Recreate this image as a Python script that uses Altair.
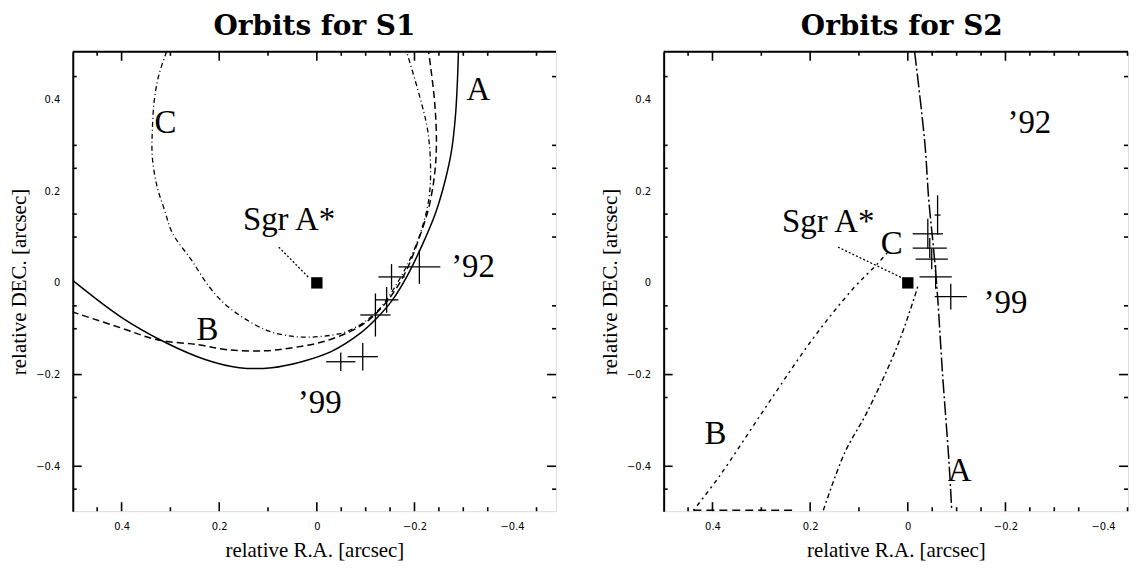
import altair as alt
import pandas as pd

# ---------------- S1 (left panel) : orbit curves (R.A., DEC in arcsec) ----------------
S1_A_RA  = [0.502, 0.402, 0.310, 0.229, 0.159, 0.092, 0.031, -0.029, -0.090, -0.120, -0.155, -0.186, -0.216, -0.243, -0.263, -0.276, -0.284, -0.288, -0.290]
S1_A_DEC = [0.007, -0.074, -0.130, -0.167, -0.185, -0.185, -0.172, -0.150, -0.109, -0.080, -0.037, 0.017, 0.083, 0.152, 0.224, 0.289, 0.365, 0.441, 0.504]
S1_B_RA  = [0.502, 0.402, 0.327, 0.243, 0.182, 0.106, 0.047, -0.014, -0.076, -0.112, -0.149, -0.182, -0.208, -0.229, -0.241, -0.245, -0.241, -0.229]
S1_B_DEC = [-0.063, -0.098, -0.124, -0.135, -0.146, -0.148, -0.141, -0.128, -0.102, -0.076, -0.033, 0.024, 0.093, 0.163, 0.235, 0.304, 0.398, 0.504]
S1_C_RA  = [0.308, 0.324, 0.333, 0.337, 0.337, 0.327, 0.312, 0.296, 0.257, 0.220, 0.182, 0.106, 0.047, -0.006, -0.059, -0.104, -0.135, -0.165, -0.192, -0.214, -0.229, -0.233, -0.227, -0.210, -0.184]
S1_C_DEC = [0.504, 0.452, 0.398, 0.333, 0.274, 0.209, 0.159, 0.109, 0.050, -0.009, -0.052, -0.102, -0.117, -0.117, -0.107, -0.080, -0.048, 0.000, 0.054, 0.115, 0.180, 0.246, 0.333, 0.409, 0.504]

# S1 measured positions with errors
S1_PT_RA   = [-0.210, -0.153, -0.143, -0.120, -0.094, -0.049]
S1_PT_DEC  = [0.035, 0.013, -0.037, -0.070, -0.161, -0.172]
S1_PT_ERA  = [0.043, 0.027, 0.024, 0.031, 0.031, 0.030]
S1_PT_EDEC = [0.037, 0.028, 0.028, 0.047, 0.030, 0.020]

# S1 labels
S1_LBL_TEXT = ["Sgr A*", "C", "A", "B", "\u201992", "\u201999"]
S1_LBL_RA   = [0.057, 0.310, -0.331, 0.224, -0.320, -0.006]
S1_LBL_DEC  = [0.137, 0.348, 0.420, -0.102, 0.035, -0.261]
S1_ARROW_RA  = [0.078, 0.016]
S1_ARROW_DEC = [0.078, 0.011]

# ---------------- S2 (right panel) ----------------
S2_A_RA  = [-0.014, -0.035, -0.043, -0.053, -0.061, -0.071, -0.084, -0.090]
S2_A_DEC = [0.504, 0.304, 0.180, 0.072, -0.030, -0.196, -0.385, -0.496]
S2_B_RA  = [0.439, 0.386, 0.294, 0.196, 0.114, 0.061, 0.037]
S2_B_DEC = [-0.496, -0.422, -0.276, -0.124, -0.015, 0.043, 0.072]
S2_BE_RA  = [0.439, 0.235]
S2_BE_DEC = [-0.496, -0.496]
S2_C_RA  = [0.173, 0.129, 0.084, 0.022, -0.014, -0.022]
S2_C_DEC = [-0.496, -0.370, -0.283, -0.139, -0.030, -0.002]

S2_PT_RA   = [-0.061, -0.041, -0.045, -0.049, -0.057, -0.088]
S2_PT_DEC  = [0.148, 0.107, 0.076, 0.052, 0.013, -0.030]
S2_PT_ERA  = [0.006, 0.031, 0.035, 0.033, 0.033, 0.033]
S2_PT_EDEC = [0.043, 0.033, 0.022, 0.022, 0.026, 0.028]

S2_LBL_TEXT = ["Sgr A*", "C", "A", "B", "\u201992", "\u201999"]
S2_LBL_RA   = [0.163, 0.033, -0.106, 0.394, -0.249, -0.200]
S2_LBL_DEC  = [0.133, 0.085, -0.411, -0.330, 0.348, -0.043]
S2_ARROW_RA  = [0.143, 0.008]
S2_ARROW_DEC = [0.078, 0.009]

# ---------------- axes ----------------
X_LABELS = [0.4, 0.2, 0.0, -0.2, -0.4]
Y_LABELS = [0.4, 0.2, 0.0, -0.2, -0.4]
X_MINOR = [0.45, 0.3, 0.1, -0.05, -0.1, -0.15, -0.25, -0.3, -0.35, -0.45]
X_MAJOR = [0.4, 0.2, 0.0, -0.2]
Y_MINOR = [0.45, 0.3, 0.25, 0.15, 0.1, -0.05, -0.1, -0.25, -0.45]
Y_MAJOR = [-0.2, -0.4]

Y_DOMAIN = [-0.498, 0.504]
H = 461
SERIF = "Liberation Serif"
LBL_EXPR = "datum.value == 0 ? '0' : format(datum.value, '.1f')"


def panel(title, x_domain, width, orbits, pts, lbl, arrow, title_dx=0):
    xs = alt.Scale(domain=x_domain, nice=False, zero=False)
    ys = alt.Scale(domain=Y_DOMAIN, nice=False, zero=False)
    xax = alt.Axis(values=X_LABELS, labelExpr=LBL_EXPR, domain=False, ticks=False, grid=False,
                   labelFont="DejaVu Sans", labelFontSize=10, labelColor="black", labelPadding=10,
                   title="relative R.A. [arcsec]", titleFont=SERIF, titleFontSize=21,
                   titleFontWeight="normal", titleColor="black", titlePadding=8)
    yax = alt.Axis(values=Y_LABELS, labelExpr=LBL_EXPR, domain=True, domainColor="black",
                   domainWidth=2, ticks=False, grid=False,
                   labelFont="DejaVu Sans", labelFontSize=10, labelColor="black", labelPadding=13,
                   title="relative DEC. [arcsec]", titleFont=SERIF, titleFontSize=21,
                   titleFontWeight="normal", titleColor="black", titlePadding=6)
    X = lambda f: alt.X(f, type="quantitative", scale=xs, axis=xax)
    Y = lambda f: alt.Y(f, type="quantitative", scale=ys, axis=yax)

    layers = []
    for ra, dec, dash, sw in orbits:
        d = pd.DataFrame({"ra": ra, "dec": dec, "i": range(len(ra))})
        m = alt.Chart(d).mark_line(color="black", strokeWidth=sw, clip=True,
                                   interpolate="catmull-rom",
                                   **({"strokeDash": dash} if dash else {}))
        layers.append(m.encode(x=X("ra"), y=Y("dec"), order="i:Q"))

    pra, pdec, pera, pedec = pts
    p = pd.DataFrame({"ra": pra, "dec": pdec, "era": pera, "edec": pedec})
    p["x1"] = p.ra - p.era
    p["x2"] = p.ra + p.era
    p["y1"] = p.dec - p.edec
    p["y2"] = p.dec + p.edec
    layers.append(alt.Chart(p).mark_rule(color="black", strokeWidth=1.3)
                  .encode(x=X("x1"), x2="x2:Q", y=Y("dec")))
    layers.append(alt.Chart(p).mark_rule(color="black", strokeWidth=1.3)
                  .encode(x=X("ra"), y=Y("y1"), y2="y2:Q"))

    a = pd.DataFrame({"ra": arrow[0], "dec": arrow[1], "i": [0, 1]})
    layers.append(alt.Chart(a).mark_line(color="black", strokeWidth=1.3, strokeDash=[2, 2])
                  .encode(x=X("ra"), y=Y("dec"), order="i:Q"))

    s = pd.DataFrame({"ra": [0.0], "dec": [0.0]})
    layers.append(alt.Chart(s).mark_square(color="black", opacity=1, size=130)
                  .encode(x=X("ra"), y=Y("dec")))

    t = pd.DataFrame({"ra": lbl[1], "dec": lbl[2], "t": lbl[0]})
    layers.append(alt.Chart(t).mark_text(font=SERIF, fontSize=33, color="black",
                                         align="center", baseline="middle")
                  .encode(x=X("ra"), y=Y("dec"), text="t:N"))

    # top frame line
    top = pd.DataFrame({"a": [x_domain[0]], "b": [x_domain[1]]})
    layers.append(alt.Chart(top).mark_rule(color="black", strokeWidth=2)
                  .encode(x=X("a"), x2="b:Q", y=alt.value(0)))

    # inward tick marks
    for vals, L in ((X_MAJOR, 9), (X_MINOR, 4)):
        d = pd.DataFrame({"v": vals})
        layers.append(alt.Chart(d).mark_rule(color="black", strokeWidth=1.6)
                      .encode(x=X("v"), y=alt.value(H), y2=alt.value(H - L)))
        layers.append(alt.Chart(d).mark_rule(color="black", strokeWidth=1.6)
                      .encode(x=X("v"), y=alt.value(0), y2=alt.value(L)))
    for vals, L in ((Y_MAJOR, 9), (Y_MINOR, 4)):
        d = pd.DataFrame({"v": vals})
        layers.append(alt.Chart(d).mark_rule(color="black", strokeWidth=1.6)
                      .encode(y=Y("v"), x=alt.value(0), x2=alt.value(L)))
        layers.append(alt.Chart(d).mark_rule(color="black", strokeWidth=1.6)
                      .encode(y=Y("v"), x=alt.value(width), x2=alt.value(width - L)))

    return alt.layer(*layers).properties(
        width=width, height=H,
        title=alt.TitleParams(title, font="DejaVu Serif", fontWeight="bold", fontSize=28,
                              color="black", anchor="middle", offset=10, dx=title_dx))


left = panel("Orbits for S1", [0.5, -0.49], 485,
             [(S1_A_RA, S1_A_DEC, None, 1.5),
              (S1_B_RA, S1_B_DEC, [7, 4], 1.5),
              (S1_C_RA, S1_C_DEC, [5, 3, 1, 3], 1.3)],
             (S1_PT_RA, S1_PT_DEC, S1_PT_ERA, S1_PT_EDEC),
             (S1_LBL_TEXT, S1_LBL_RA, S1_LBL_DEC), (S1_ARROW_RA, S1_ARROW_DEC))

right = panel("Orbits for S2", [0.5, -0.451], 466,
              [(S2_A_RA, S2_A_DEC, [14, 3, 2, 3], 1.5),
               (S2_B_RA, S2_B_DEC, [2, 4, 4, 4], 1.4),
               (S2_BE_RA, S2_BE_DEC, [8, 5], 1.5),
               (S2_C_RA, S2_C_DEC, [5, 3, 2, 3], 1.4)],
              (S2_PT_RA, S2_PT_DEC, S2_PT_ERA, S2_PT_EDEC),
              (S2_LBL_TEXT, S2_LBL_RA, S2_LBL_DEC), (S2_ARROW_RA, S2_ARROW_DEC),
              title_dx=6)

chart = alt.hconcat(left, right, spacing=41).properties(
    padding={"left": 0, "top": 3, "right": 0, "bottom": 0}
).configure_view(stroke=None).configure(background="white")

chart.save("out.html", embed_options={"renderer": "svg", "actions": False})
